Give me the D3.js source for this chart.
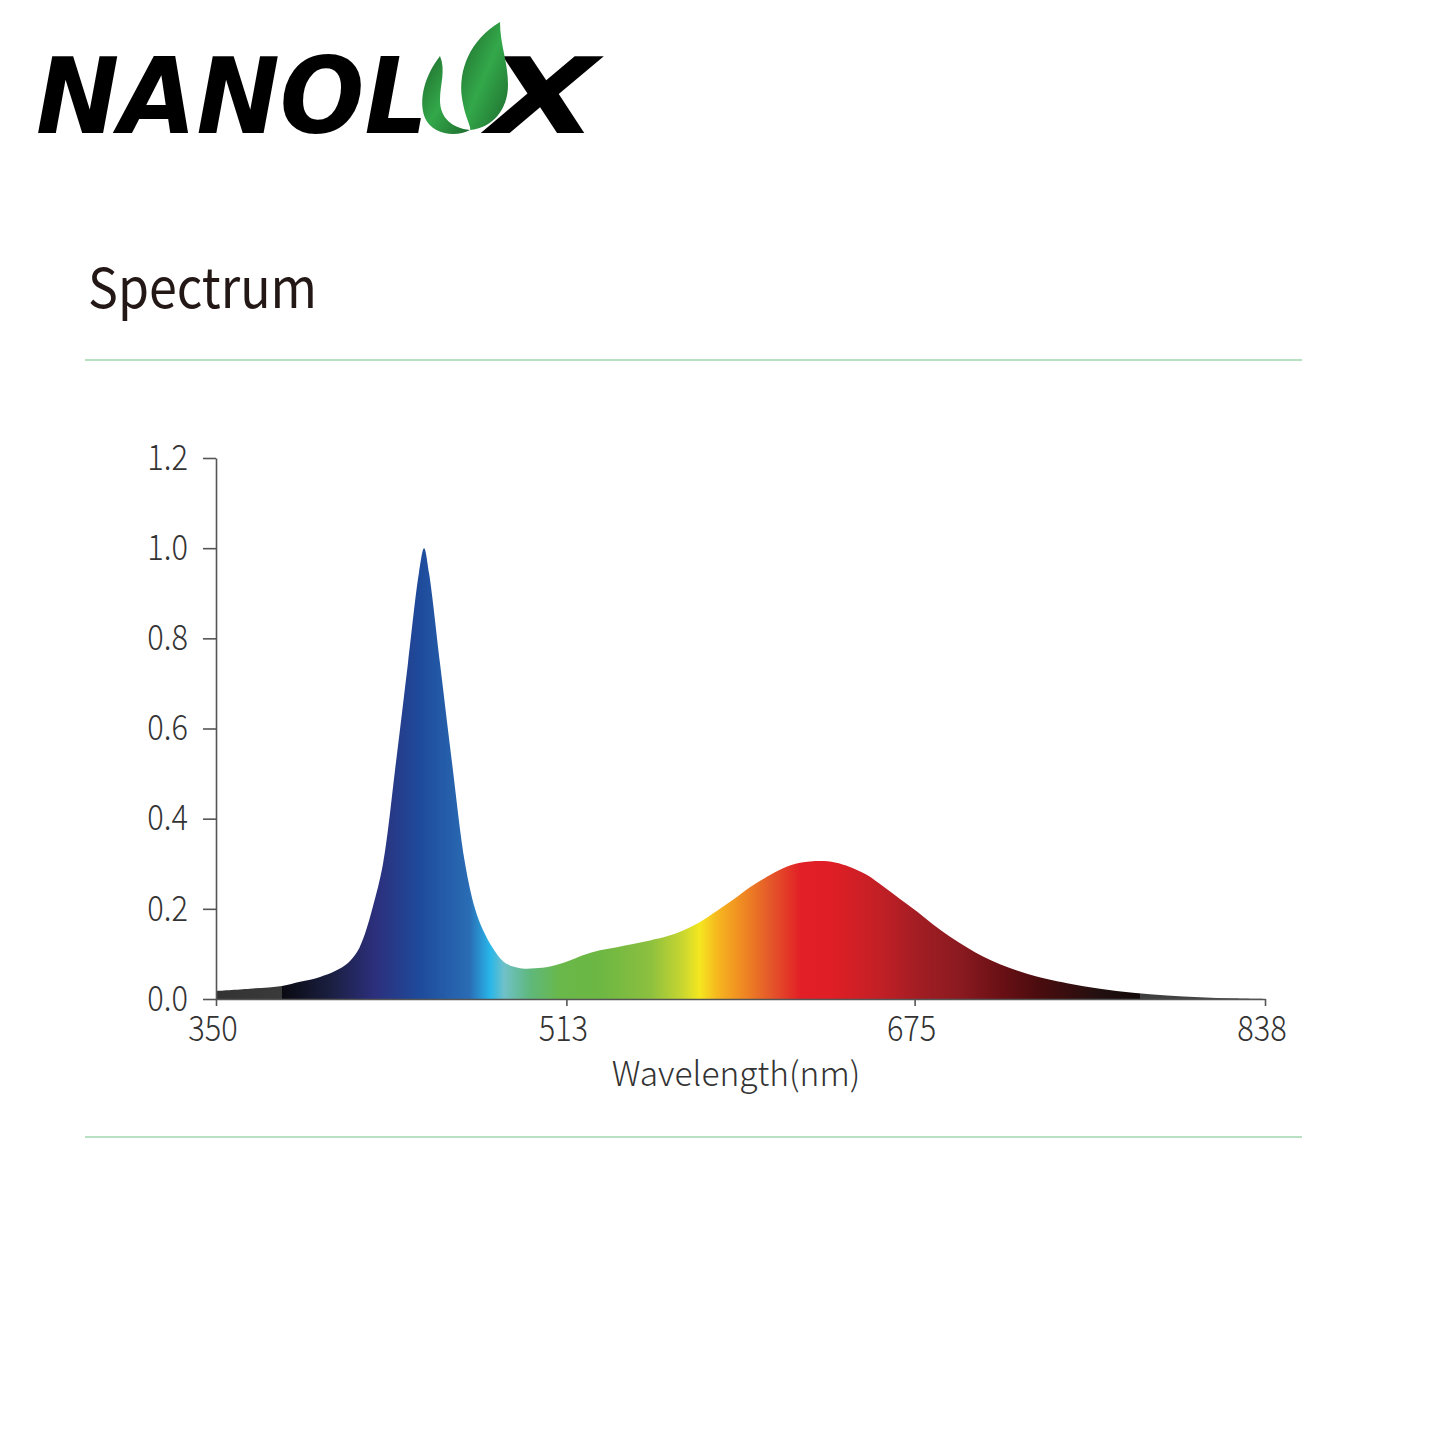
<!DOCTYPE html>
<html>
<head>
<meta charset="utf-8">
<script src="https://cdn.jsdelivr.net/npm/d3@7"></script>
<style>
  html, body { margin: 0; padding: 0; background: #ffffff; }
  svg { display: block; }
</style>
</head>
<body>
<script>
// ---- data ----
const wavelengths = [350, 365.8, 380.7, 389.1, 398.4, 405.4, 411.4, 415.6, 419.3, 423.0, 427.7, 433.7, 439.3, 444.4, 446.8, 449.1, 454.2, 459.8, 465.8, 470.5, 474.2, 478.9, 483.5, 488.2, 493.7, 498.4, 505.4, 513.3, 520.7, 528.6, 536.5, 544.0, 551.9, 559.8, 567.3, 575.2, 583.1, 590.5, 598.4, 606.3, 613.8, 621.7, 631.0, 638.0, 644.9, 652.9, 660.3, 668.2, 676.1, 683.6, 691.5, 699.4, 706.8, 714.7, 722.6, 730.1, 745.9, 761.2, 776.6, 792.4, 807.8, 823.1, 838];
const intensity   = [0.018, 0.023, 0.029, 0.038, 0.049, 0.062, 0.080, 0.104, 0.145, 0.205, 0.300, 0.524, 0.745, 0.945, 1.0, 0.945, 0.745, 0.524, 0.302, 0.200, 0.153, 0.112, 0.084, 0.072, 0.067, 0.068, 0.072, 0.083, 0.097, 0.108, 0.115, 0.122, 0.130, 0.139, 0.152, 0.171, 0.196, 0.220, 0.248, 0.271, 0.290, 0.302, 0.306, 0.303, 0.293, 0.275, 0.250, 0.222, 0.194, 0.165, 0.138, 0.114, 0.094, 0.077, 0.063, 0.052, 0.035, 0.023, 0.014, 0.008, 0.004, 0.0015, 0.0];
const xTickValues = [350, 513, 675, 838];
const yTickValues = [0.0, 0.2, 0.4, 0.6, 0.8, 1.0, 1.2];
const titleText = "Spectrum";
const xAxisTitle = "Wavelength(nm)";

// spectral colour ramp (wavelength in nm -> colour)
const rampNm     = [350, 380.7, 380.7, 403, 424, 445, 468, 477.5, 484, 496, 510, 529, 552, 567, 575, 583, 594, 608, 622, 636, 659, 678, 696, 715, 733, 761, 780, 780, 838];
const rampColors = ["#333333", "#3a3a3a", "#0a0a12", "#1a1f40", "#2c2f7c", "#1e4b9b", "#2a6db5", "#28b6e9", "#6fc1c8", "#5fb87c", "#69b84a", "#6db743", "#8cc03f", "#c8d630", "#f4e71f", "#f6b81f", "#f08d22", "#e4572a", "#e21f26", "#e01e25", "#c12026", "#a01d23", "#8a1a20", "#6a1015", "#4a0c0e", "#231010", "#120909", "#3e3e3e", "#4a4a4a"];

// ---- drawing ----
const W = 1445, H = 1445;
const svg = d3.select("body").append("svg").attr("width", W).attr("height", H);
svg.append("rect").attr("width", W).attr("height", H).attr("fill", "#ffffff");

const x = d3.scaleLinear().domain([350, 838]).range([216, 1265]);
const y = d3.scaleLinear().domain([0, 1.2]).range([999, 458]);

const labelFont = "'Noto Sans CJK SC', 'Noto Sans', sans-serif";
const defs = svg.append("defs");

// Logo
const logo = svg.append("g");
const lg = defs.append("linearGradient").attr("id", "leafGrad")
  .attr("x1", "0").attr("y1", "0").attr("x2", "1").attr("y2", "1");
lg.append("stop").attr("offset", "0").attr("stop-color", "#1f6a2c");
lg.append("stop").attr("offset", "0.5").attr("stop-color", "#33a84a");
lg.append("stop").attr("offset", "1").attr("stop-color", "#1d6b2d");

logo.append("text")
  .attr("x", 36).attr("y", 133)
  .attr("font-family", "'DejaVu Sans', sans-serif")
  .attr("font-weight", "bold").attr("font-style", "italic")
  .attr("font-size", 106)
  .attr("textLength", 392).attr("lengthAdjust", "spacingAndGlyphs")
  .attr("fill", "#000")
  .text("NANOL");
logo.append("text")
  .attr("x", 488).attr("y", 133)
  .attr("font-family", "'DejaVu Sans', sans-serif")
  .attr("font-weight", "bold").attr("font-style", "italic")
  .attr("font-size", 106)
  .attr("textLength", 110).attr("lengthAdjust", "spacingAndGlyphs")
  .attr("fill", "#000")
  .text("X");
// leaf "U"
logo.append("path")
  .attr("d", "M440,56 C425,75 418,100 425,118 C432,134 455,138 470,130 C452,128 440,118 440,100 C440,85 446,70 440,56 Z")
  .attr("fill", "url(#leafGrad)");
logo.append("path")
  .attr("d", "M500,22 C470,40 458,70 462,98 C465,118 472,128 470,130 C492,128 508,110 508,85 C508,62 500,45 500,22 Z")
  .attr("fill", "url(#leafGrad)");

// Title
svg.append("text")
  .attr("x", 88).attr("y", 308)
  .attr("font-family", labelFont)
  .attr("font-size", 55)
  .attr("textLength", 229).attr("lengthAdjust", "spacingAndGlyphs")
  .attr("fill", "#231815")
  .text(titleText);

// green separator lines
[360, 1137].forEach(yy => {
  svg.append("line").attr("x1", 85).attr("x2", 1302).attr("y1", yy).attr("y2", yy)
    .attr("stroke", "#b8e0c2").attr("stroke-width", 2);
});

// spectrum gradient
const sg = defs.append("linearGradient").attr("id", "specGrad")
  .attr("gradientUnits", "userSpaceOnUse")
  .attr("x1", x(350)).attr("x2", x(838)).attr("y1", 0).attr("y2", 0);
rampNm.forEach((nm, i) => {
  sg.append("stop").attr("offset", (x(nm) - x(350)) / (x(838) - x(350))).attr("stop-color", rampColors[i]);
});

const data = wavelengths.map((w, i) => ({ w, v: intensity[i] }));
const area = d3.area()
  .x(d => x(d.w)).y0(y(0)).y1(d => y(d.v))
  .curve(d3.curveCatmullRom.alpha(0.5));
svg.append("path").datum(data).attr("d", area).attr("fill", "url(#specGrad)");

// axes
const sx = 0.88;
const yAxis = d3.axisLeft(y).tickValues(yTickValues).tickFormat(d3.format(".1f"))
  .tickSize(13).tickSizeOuter(0).tickPadding(15);
const gy = svg.append("g").attr("transform", `translate(${x(350)},0)`).call(yAxis);

const xAxis = d3.axisBottom(x).tickValues(xTickValues).tickFormat(d3.format("d"))
  .tickSize(7).tickSizeOuter(0).tickPadding(10);
const gx = svg.append("g").attr("transform", `translate(0,${y(0)})`).call(xAxis);

[gx, gy].forEach(g => {
  g.select(".domain").attr("stroke", "#555").attr("stroke-width", 1.6);
  g.selectAll(".tick line").attr("stroke", "#555").attr("stroke-width", 1.6);
  g.selectAll(".tick text")
    .attr("font-family", labelFont).attr("font-weight", 300)
    .attr("font-size", 35).attr("fill", "#333");
});
gy.selectAll(".tick text")
  .attr("x", -28 / sx)
  .attr("transform", `scale(${sx},1)`);
gx.selectAll(".tick text")
  .attr("dx", -4)
  .attr("transform", `scale(${sx},1)`);

svg.append("text")
  .attr("x", 736).attr("y", 1086)
  .attr("text-anchor", "middle")
  .attr("font-family", labelFont).attr("font-weight", 300)
  .attr("font-size", 33.5).attr("fill", "#333")
  .text(xAxisTitle);
</script>
</body>
</html>
